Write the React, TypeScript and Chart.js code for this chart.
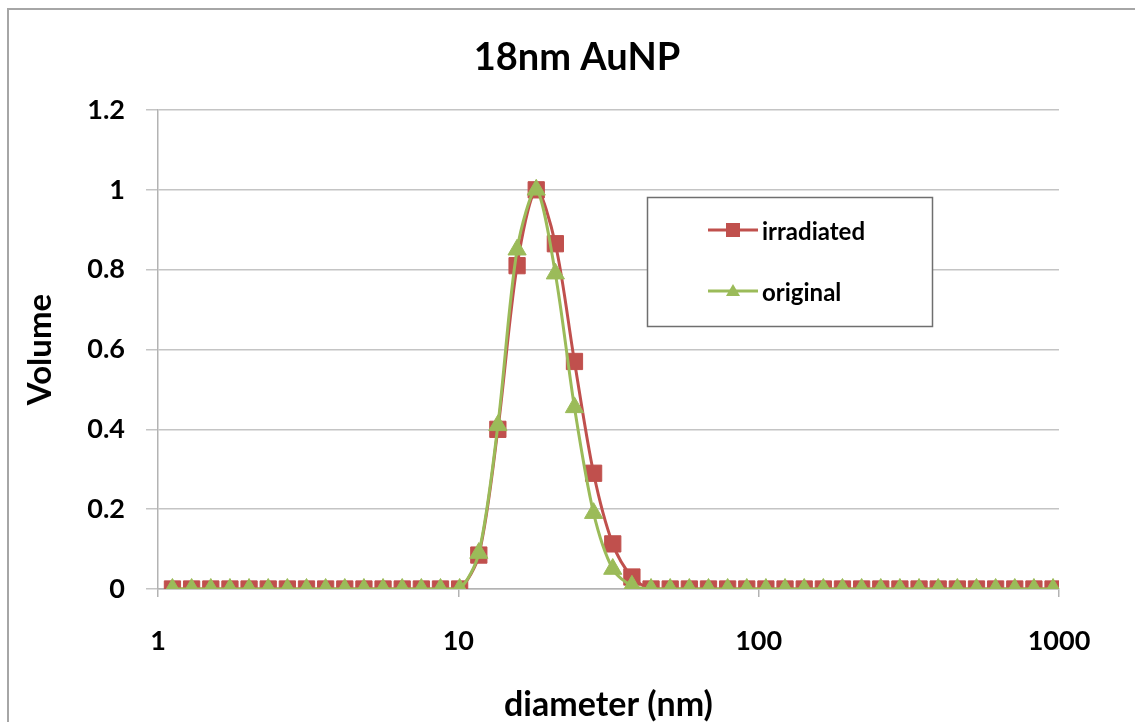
import React, { useEffect, useRef } from "react";
import { Chart, registerables } from "chart.js";

Chart.register(...registerables);

const chartTitle = "18nm AuNP";
const xAxisTitle = "diameter (nm)";
const yAxisTitle = "Volume";
const seriesNames = ["irradiated", "original"];
const seriesColors = ["#c0504d", "#9bbb59"];

// Size classes (nm)
const diameters = [
  1.117, 1.294, 1.499, 1.736, 2.01, 2.328, 2.696, 3.122, 3.615, 4.187, 4.849, 5.615,
  6.503, 7.531, 8.721, 10.1, 11.7, 13.54, 15.69, 18.17, 21.04, 24.36, 28.21, 32.67,
  37.84, 43.82, 50.75, 58.77, 68.06, 78.82, 91.28, 105.7, 122.4, 141.8, 164.2, 190.1,
  220.2, 255.0, 295.3, 342.0, 396.1, 458.7, 531.2, 615.1, 712.4, 825.0, 955.4,
];

const irradiated = [
  0, 0, 0, 0, 0, 0, 0, 0, 0, 0, 0, 0,
  0, 0, 0, 0, 0.085, 0.4, 0.81, 1.0, 0.865, 0.57, 0.29, 0.113,
  0.03, 0, 0, 0, 0, 0, 0, 0, 0, 0, 0, 0,
  0, 0, 0, 0, 0, 0, 0, 0, 0, 0, 0,
];

const original = [
  0, 0, 0, 0, 0, 0, 0, 0, 0, 0, 0, 0,
  0, 0, 0, 0, 0.09, 0.41, 0.85, 1.0, 0.79, 0.455, 0.19, 0.05,
  0.008, 0, 0, 0, 0, 0, 0, 0, 0, 0, 0, 0,
  0, 0, 0, 0, 0, 0, 0, 0, 0, 0, 0,
];

const xTickValues = [1, 10, 100, 1000];
const yMin = 0;
const yMax = 1.2;
const yStep = 0.2;

const FONT = "Lato";

const frameTitleLegendPlugin = {
  id: "frameTitleLegend",
  beforeDraw(chart: any) {
    const ctx: CanvasRenderingContext2D = chart.ctx;
    ctx.save();
    ctx.fillStyle = "#fff";
    ctx.fillRect(0, 0, chart.width, chart.height);
    // chart object frame (left and top edges visible)
    ctx.strokeStyle = "#a6a6a6";
    ctx.lineWidth = 2;
    ctx.beginPath();
    ctx.moveTo(8, chart.height);
    ctx.lineTo(8, 9);
    ctx.lineTo(chart.width, 9);
    ctx.stroke();
    ctx.restore();
  },
  afterDraw(chart: any) {
    const ctx: CanvasRenderingContext2D = chart.ctx;
    ctx.save();
    // Title
    ctx.fillStyle = "#000";
    ctx.font = `bold 38px ${FONT}`;
    ctx.textAlign = "center";
    ctx.textBaseline = "alphabetic";
    ctx.fillText(chartTitle, 577, 70);

    // Legend box
    ctx.fillStyle = "#fff";
    ctx.fillRect(647, 197, 286, 130);
    ctx.strokeStyle = "#6f6f6f";
    ctx.lineWidth = 1.5;
    ctx.strokeRect(647.5, 197.5, 285, 129);

    const rows = [230, 291];
    rows.forEach((y, i) => {
      const c = seriesColors[i];
      ctx.strokeStyle = c;
      ctx.lineWidth = 3;
      ctx.beginPath();
      ctx.moveTo(708, y);
      ctx.lineTo(758, y);
      ctx.stroke();
      ctx.fillStyle = c;
      if (i === 0) {
        ctx.fillRect(733 - 7, y - 7, 14, 14);
      } else {
        ctx.beginPath();
        ctx.moveTo(733, y - 7);
        ctx.lineTo(733 + 7, y + 5);
        ctx.lineTo(733 - 7, y + 5);
        ctx.closePath();
        ctx.fill();
      }
      ctx.fillStyle = "#000";
      ctx.font = `bold 24px ${FONT}`;
      ctx.textAlign = "left";
      ctx.textBaseline = "middle";
      ctx.fillText(seriesNames[i], 762, y + 2);
    });
    ctx.restore();
  },
};

export default function App() {
  const ref = useRef<HTMLCanvasElement>(null);

  useEffect(() => {
    document.documentElement.style.overflow = "hidden";
    document.body.style.overflow = "hidden";
    Chart.defaults.font.family = FONT;
    Chart.defaults.color = "#000";
    const chart = new Chart(ref.current as HTMLCanvasElement, {
      type: "line",
      data: {
        datasets: [
          {
            label: seriesNames[0],
            data: diameters.map((d, i) => ({ x: d, y: irradiated[i] })),
            borderColor: seriesColors[0],
            backgroundColor: seriesColors[0],
            pointBackgroundColor: seriesColors[0],
            pointBorderColor: seriesColors[0],
            pointStyle: "rect",
            pointRadius: 11.5,
            pointBorderWidth: 1,
            borderWidth: 3,
            tension: 0.3,
            order: 2,
          },
          {
            label: seriesNames[1],
            data: diameters.map((d, i) => ({ x: d, y: original[i] })),
            borderColor: seriesColors[1],
            backgroundColor: seriesColors[1],
            pointBackgroundColor: seriesColors[1],
            pointBorderColor: seriesColors[1],
            pointStyle: "triangle",
            pointRadius: 10.5,
            pointBorderWidth: 1,
            borderWidth: 3,
            tension: 0.3,
            order: 1,
          },
        ],
      },
      options: {
        animation: false,
        responsive: false,
        events: [],
        layout: { padding: { top: 110, right: 76, bottom: 0, left: 0 } },
        plugins: {
          legend: { display: false },
          title: { display: false },
          tooltip: { enabled: false },
        },
        scales: {
          x: {
            type: "logarithmic",
            min: 1,
            max: 1000,
            afterBuildTicks: (scale: any) => {
              scale.ticks = xTickValues.map((v) => ({ value: v }));
            },
            afterFit: (scale: any) => {
              scale.height = 133;
            },
            grid: {
              drawOnChartArea: false,
              drawTicks: true,
              tickLength: 8,
              color: "#b3b3b3",
              lineWidth: 1.5,
            },
            border: { display: true, color: "#b3b3b3", width: 1.5 },
            ticks: {
              autoSkip: false,
              maxRotation: 0,
              padding: 28,
              font: { size: 27, weight: "bold" },
              callback: (v: any) => String(v),
            },
            title: {
              display: true,
              text: xAxisTitle,
              font: { size: 34, weight: "bold", lineHeight: 1 },
              padding: { top: 0, bottom: 0 },
            },
          },
          y: {
            type: "linear",
            min: yMin,
            max: yMax,
            afterFit: (scale: any) => {
              scale.width = 158;
            },
            grid: {
              color: "#c4c4c4",
              lineWidth: 1.5,
              drawTicks: true,
              tickLength: 12,
            },
            border: { display: true, color: "#b3b3b3", width: 1.5 },
            ticks: {
              stepSize: yStep,
              padding: 21,
              font: { size: 27, weight: "bold" },
              callback: (v: any) => String(Number(Number(v).toFixed(1))),
            },
            title: {
              display: true,
              text: yAxisTitle,
              font: { size: 33, weight: "bold", lineHeight: 1.2 },
              padding: { top: 21, bottom: 0 },
            },
          },
        },
      },
      plugins: [frameTitleLegendPlugin],
    } as any);
    return () => chart.destroy();
  }, []);

  return (
    <div
      style={{
        position: "fixed",
        left: 0,
        top: 0,
        width: 1135,
        height: 722,
        overflow: "hidden",
        background: "#fff",
      }}
    >
      <canvas
        ref={ref}
        width={1135}
        height={722}
        style={{ position: "absolute", left: 0, top: 0, width: 1135, height: 722 }}
      />
    </div>
  );
}
